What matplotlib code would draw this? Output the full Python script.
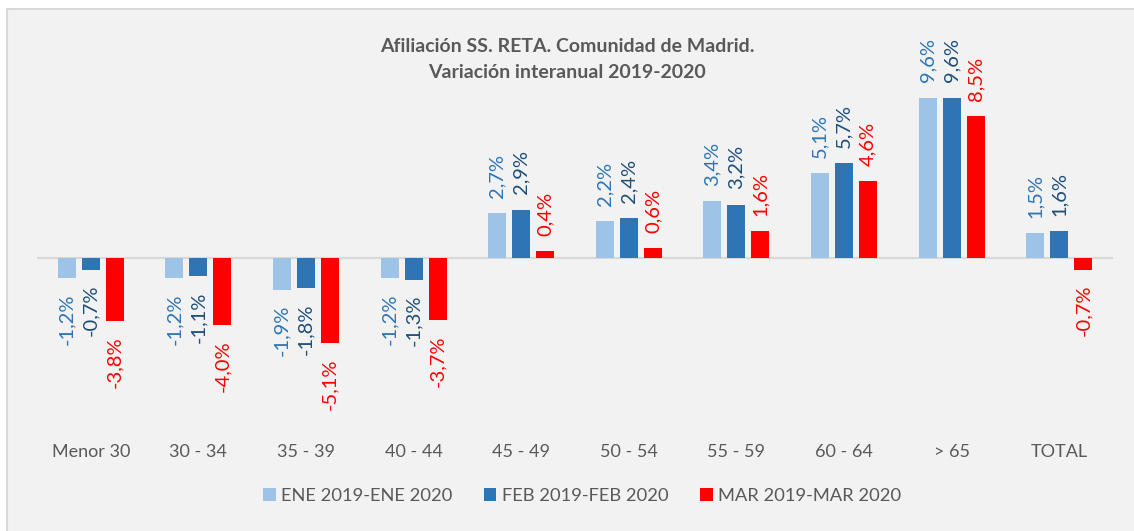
import numpy as np
import matplotlib.pyplot as plt
from matplotlib.patches import Rectangle, Patch

# datos: variación interanual (%)
categorias = ["Menor 30", "30 - 34", "35 - 39", "40 - 44", "45 - 49",
              "50 - 54", "55 - 59", "60 - 64", "> 65", "TOTAL"]
ene = [-1.2, -1.2, -1.9, -1.2, 2.7, 2.2, 3.4, 5.1, 9.6, 1.5]
feb = [-0.7, -1.1, -1.8, -1.3, 2.9, 2.4, 3.2, 5.7, 9.6, 1.6]
mar = [-3.8, -4.0, -5.1, -3.7, 0.4, 0.6, 1.6, 4.6, 8.5, -0.7]
series = ["ENE 2019-ENE 2020", "FEB 2019-FEB 2020", "MAR 2019-MAR 2020"]

colores = ["#9DC3E6", "#2E75B6", "#FF0000"]
colores_txt = ["#2E75B6", "#1F4E79", "#FF0000"]
gris = "#595959"

plt.rcParams['font.family'] = ['Lato', 'DejaVu Sans']


def main():
    fig = plt.figure(figsize=(11.34, 5.31), dpi=100)
    fig.patch.set_facecolor("white")
    # marco del gráfico
    fig.add_artist(Rectangle((7 / 1134, -0.01), 1.1, 1 - 9 / 531 + 0.01,
                             transform=fig.transFigure, facecolor="#F2F2F2",
                             edgecolor="#D9D9D9", lw=1.5, zorder=-10))

    ax = fig.add_axes([37 / 1134, 0.1996, (1113 - 37) / 1134, 0.692])
    ax.set_facecolor("none")
    x = np.arange(len(categorias))
    paso = 0.223
    ancho = 0.167

    for i, (vals, nombre) in enumerate(zip([ene, feb, mar], series)):
        pos = x + (i - 1) * paso
        ax.bar(pos, vals, width=ancho, color=colores[i], label=nombre, zorder=3)
        for px, v in zip(pos, vals):
            txt = f"{v:.1f}%".replace(".", ",")
            ax.annotate(txt, (px, v), xytext=(0, 11 if v >= 0 else -11),
                        textcoords="offset points", rotation=90,
                        ha="center", va="bottom" if v >= 0 else "top",
                        fontsize=14.5, color=colores_txt[i], annotation_clip=False)

    ax.axhline(0, color="#D9D9D9", lw=1.5, zorder=2)
    ax.set_xlim(-0.5, len(categorias) - 0.5)
    ax.set_ylim(-10, 12)
    ax.set_xticks(x)
    ax.set_xticklabels(categorias, fontsize=13, color=gris)
    ax.tick_params(axis="x", length=0, pad=14)
    ax.set_yticks([])
    for s in ax.spines.values():
        s.set_visible(False)

    fig.text(567 / 1134, 1 - 47 / 531, "Afiliación SS. RETA. Comunidad de Madrid.",
             ha="center", va="center", fontsize=14, fontweight="bold", color=gris)
    fig.text(567 / 1134, 1 - 72 / 531, "Variación interanual 2019-2020",
             ha="center", va="center", fontsize=14, fontweight="bold", color=gris)

    handles = [Patch(facecolor=c, label=s) for c, s in zip(colores, series)]
    fig.legend(handles=handles, loc="center", bbox_to_anchor=(582 / 1134, 1 - 496 / 531),
               ncol=3, frameon=False, fontsize=13.2, labelcolor=gris,
               handlelength=0.7, handleheight=0.7, handletextpad=0.3, columnspacing=1.7)

    fig.savefig("out.png", dpi=100)


if __name__ == '__main__':
    main()
